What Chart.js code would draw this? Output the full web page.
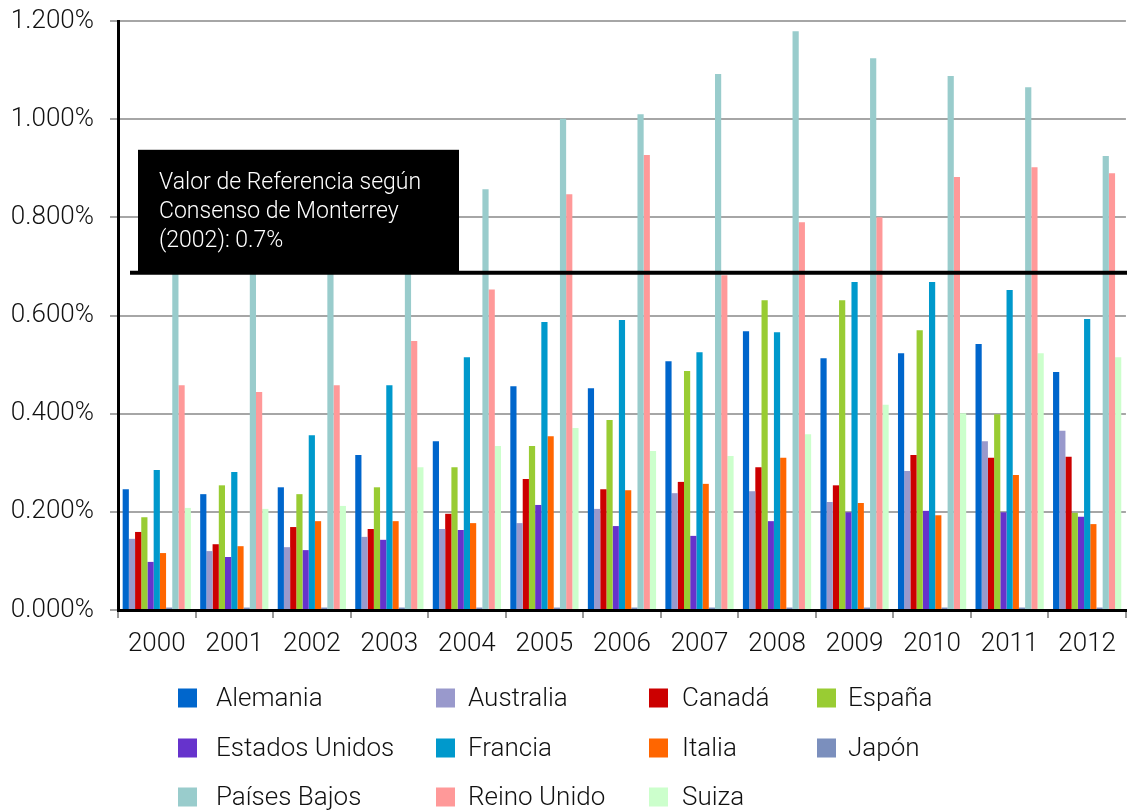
<!DOCTYPE html>
<html>
<head>
<meta charset="utf-8">
<script src="https://cdn.jsdelivr.net/npm/chart.js@4.4.1/dist/chart.umd.min.js"></script>
<style>
  html, body { margin: 0; padding: 0; background: #fff; }
  #wrap { width: 1127px; height: 810px; }
</style>
</head>
<body>
<div id="wrap"><canvas id="c" width="1127" height="810"></canvas></div>
<script>
// AOD como % del PIB
var years = ['2000','2001','2002','2003','2004','2005','2006','2007','2008','2009','2010','2011','2012'];

var alemania     = [0.246, 0.236, 0.250, 0.316, 0.344, 0.456, 0.452, 0.507, 0.568, 0.513, 0.523, 0.542, 0.485];
var australia    = [0.145, 0.120, 0.128, 0.149, 0.165, 0.177, 0.206, 0.238, 0.242, 0.220, 0.283, 0.344, 0.365];
var canada       = [0.159, 0.134, 0.169, 0.165, 0.196, 0.267, 0.246, 0.261, 0.291, 0.254, 0.316, 0.310, 0.312];
var espana       = [0.189, 0.254, 0.236, 0.250, 0.291, 0.334, 0.387, 0.487, 0.631, 0.631, 0.570, 0.399, 0.198];
var estadosUnidos= [0.098, 0.108, 0.122, 0.143, 0.163, 0.214, 0.171, 0.151, 0.181, 0.199, 0.202, 0.199, 0.190];
var francia      = [0.285, 0.281, 0.356, 0.458, 0.515, 0.587, 0.591, 0.525, 0.566, 0.668, 0.668, 0.652, 0.593];
var italia       = [0.116, 0.130, 0.181, 0.181, 0.177, 0.354, 0.244, 0.257, 0.310, 0.218, 0.193, 0.275, 0.175];
var japon        = [0.005, 0.005, 0.005, 0.005, 0.005, 0.005, 0.005, 0.005, 0.005, 0.005, 0.005, 0.005, 0.005];
var paisesBajos  = [0.840, 0.820, 0.810, 0.800, 0.857, 1.001, 1.010, 1.092, 1.179, 1.124, 1.088, 1.065, 0.925];
var reinoUnido   = [0.458, 0.444, 0.458, 0.548, 0.653, 0.847, 0.927, 0.682, 0.790, 0.800, 0.882, 0.902, 0.890];
var suiza        = [0.208, 0.206, 0.212, 0.291, 0.334, 0.371, 0.324, 0.314, 0.358, 0.418, 0.401, 0.523, 0.515];

var yTicks = [0, 0.2, 0.4, 0.6, 0.8, 1.0, 1.2];
var refValue = 0.687;
var refText = ['Valor de Referencia según', 'Consenso de Monterrey', '(2002): 0.7%'];

var FONT = '"Helvetica Neue", Roboto, "Liberation Sans", Arial, sans-serif';

var series = [
  { label: 'Alemania',       data: alemania,      color: '#0066CC' },
  { label: 'Australia',      data: australia,     color: '#9999CC' },
  { label: 'Canadá',         data: canada,        color: '#CC0000' },
  { label: 'España',         data: espana,        color: '#99CC33' },
  { label: 'Estados Unidos', data: estadosUnidos, color: '#6633CC' },
  { label: 'Francia',        data: francia,       color: '#0099CC' },
  { label: 'Italia',         data: italia,        color: '#FF6600' },
  { label: 'Japón',          data: japon,         color: '#7B8FBD' },
  { label: 'Países Bajos',   data: paisesBajos,   color: '#99CCCC' },
  { label: 'Reino Unido',    data: reinoUnido,    color: '#FF9999' },
  { label: 'Suiza',          data: suiza,         color: '#CCFFCC' }
];

// linea de referencia + recuadro negro
var refPlugin = {
  id: 'refLine',
  afterDatasetsDraw: function(chart) {
    var ctx = chart.ctx, area = chart.chartArea;
    var y = chart.scales.y.getPixelForValue(refValue);
    ctx.save();
    ctx.fillStyle = '#000';
    ctx.fillRect(area.left + 20, y - 123, 321, 123);
    ctx.strokeStyle = '#000';
    ctx.lineWidth = 4;
    ctx.beginPath();
    ctx.moveTo(area.left + 12, y);
    ctx.lineTo(chart.width, y);
    ctx.stroke();
    ctx.fillStyle = '#fff';
    ctx.font = '300 23px ' + FONT;
    ctx.textBaseline = 'middle';
    refText.forEach(function(t, i) {
      ctx.fillText(t, area.left + 41, y - 90 + i * 29);
    });
    ctx.restore();
  }
};

// leyenda en rejilla de 4 columnas
var legendBoxX = [178, 436, 649, 817];
var legendTextX = [216, 468, 682, 848];
var legendRows = [698, 748, 797];
var gridLegend = {
  id: 'gridLegend',
  afterDraw: function(chart) {
    var ctx = chart.ctx;
    ctx.save();
    ctx.font = '300 26px ' + FONT;
    ctx.textBaseline = 'middle';
    chart.data.datasets.forEach(function(ds, i) {
      var c = i % 4, y = legendRows[Math.floor(i / 4)];
      ctx.fillStyle = ds.backgroundColor;
      ctx.fillRect(legendBoxX[c], y - 9.5, 19, 19);
      ctx.fillStyle = '#111';
      ctx.fillText(ds.label, legendTextX[c], y + 1);
    });
    ctx.restore();
  }
};

new Chart(document.getElementById('c'), {
  type: 'bar',
  data: {
    labels: years,
    datasets: series.map(function(s) {
      return { label: s.label, data: s.data, backgroundColor: s.color, borderWidth: 0,
               categoryPercentage: 0.88, barPercentage: 1.0 };
    })
  },
  options: {
    responsive: false,
    animation: false,
    layout: { padding: { top: 21, right: 0, bottom: 150, left: 0 } },
    plugins: { legend: { display: false }, tooltip: { enabled: false } },
    scales: {
      x: {
        afterFit: function(s) { s.height = 50; },
        grid: { drawOnChartArea: false, drawTicks: true, tickLength: 8, color: '#999', lineWidth: 2 },
        border: { color: '#000', width: 3 },
        ticks: { color: '#111', padding: 11, maxRotation: 0, font: { family: FONT, size: 26, weight: 300 } }
      },
      y: {
        min: 0, max: 1.2,
        afterFit: function(s) { s.width = 118; s.paddingTop = 0; s.paddingBottom = 0; },
        afterBuildTicks: function(s) { s.ticks = yTicks.map(function(v) { return { value: v }; }); },
        grid: { color: '#A6A6A6', lineWidth: 2, tickLength: 8 },
        border: { color: '#000', width: 3 },
        ticks: {
          color: '#111', padding: 16, font: { family: FONT, size: 26, weight: 300 },
          callback: function(v) { return v.toFixed(3) + '%'; }
        }
      }
    }
  },
  plugins: [refPlugin, gridLegend]
});
</script>
</body>
</html>
